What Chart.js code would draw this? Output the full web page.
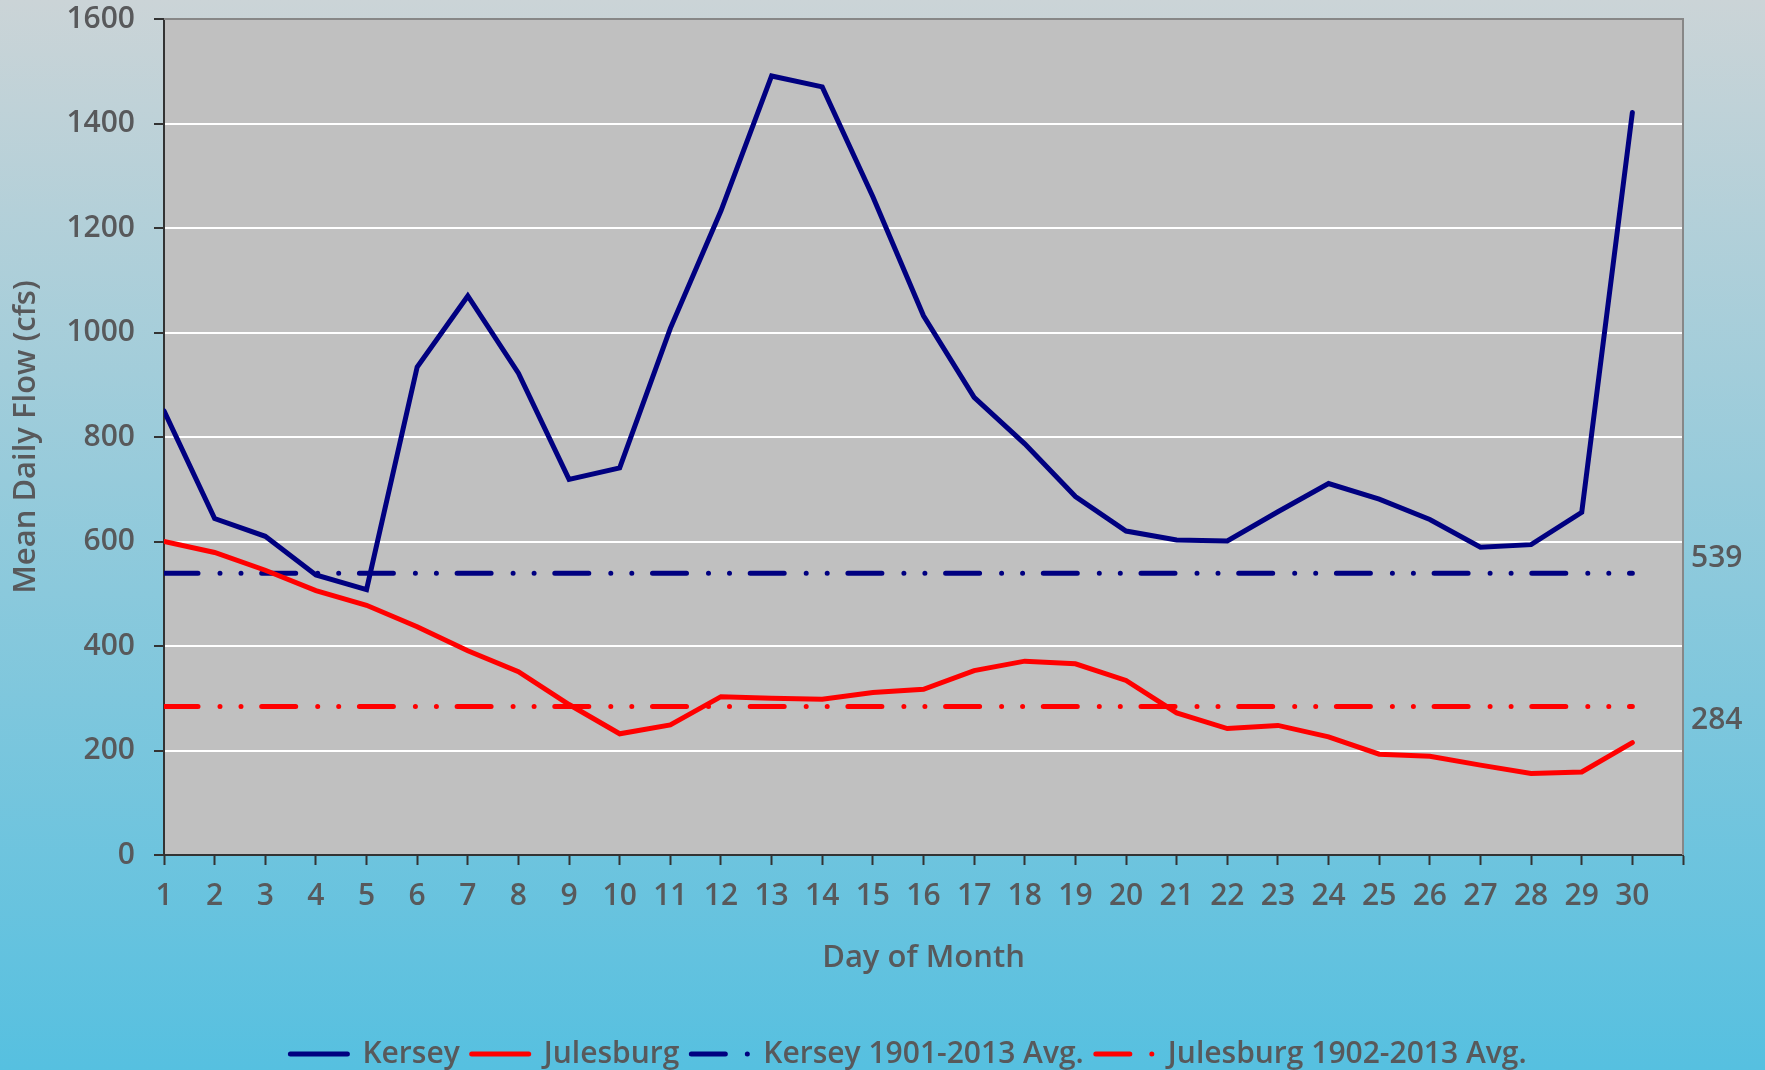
<!DOCTYPE html>
<html>
<head>
<meta charset="utf-8">
<script src="https://cdn.jsdelivr.net/npm/chart.js@4.4.1/dist/chart.umd.min.js"></script>
<style>
  html, body { margin: 0; padding: 0; background: #56c0e0; }
  #wrap { width: 1765px; height: 1070px; }
  canvas { display: block; }
</style>
</head>
<body>
<div id="wrap"><canvas id="c" width="1765" height="1070"></canvas></div>
<script>
// ---------------- data ----------------
const days = [1,2,3,4,5,6,7,8,9,10,11,12,13,14,15,16,17,18,19,20,21,22,23,24,25,26,27,28,29,30];
const kersey = [850, 644, 610, 536, 508, 934, 1070, 922, 719, 741, 1008, 1233, 1491, 1470, 1260, 1032, 876, 787, 686, 620, 603, 601, 657, 711, 681, 642, 589, 594, 656, 1421];
const julesburg = [600, 579, 545, 506, 478, 437, 391, 351, 288, 232, 249, 303, 300, 298, 311, 317, 353, 371, 366, 334, 272, 242, 248, 226, 193, 189, 172, 156, 159, 215];
const kerseyAvg = 539;
const julesburgAvg = 284;
const seriesNames = ['Kersey', 'Julesburg', 'Kersey 1901-2013 Avg.', 'Julesburg 1902-2013 Avg.'];
const yTicks = [0, 200, 400, 600, 800, 1000, 1200, 1400, 1600];
const xTitle = 'Day of Month';
const yTitle = 'Mean Daily Flow (cfs)';

// ---------------- styles ----------------
const FONT = "'Open Sans', 'DejaVu Sans', sans-serif";
const WEIGHT = '600';
const TEXT = '#58595b';
const NAVY = '#000080';
const RED = '#ff0000';
const DASH = [34, 22, 0, 21, 0, 20.7];

const pts = (vals) => days.map((d, i) => ({ x: d, y: vals[i] }));
const flat = (v) => days.map(d => ({ x: d, y: v }));

const bgPlugin = {
  id: 'bg',
  afterLayout(chart) {
    // nudge the legend row to sit slightly left of the plot centre, as in the original
    chart.legend.left -= 15;
    chart.legend.right -= 15;
  },
  beforeDraw(chart) {
    const { ctx, width, height, chartArea: a } = chart;
    ctx.save();
    const g = ctx.createLinearGradient(0, 0, 0, height);
    g.addColorStop(0, '#cbd4d7');
    g.addColorStop(1, '#56c0e0');
    ctx.fillStyle = g;
    ctx.fillRect(0, 0, width, height);
    ctx.fillStyle = '#c0c0c0';
    ctx.fillRect(a.left, a.top, a.right - a.left, a.bottom - a.top);
    ctx.restore();
  },
  beforeDatasetsDraw(chart) {
    const { ctx, chartArea: a } = chart;
    ctx.save();
    ctx.strokeStyle = '#878787';
    ctx.lineWidth = 2;
    ctx.beginPath();
    ctx.moveTo(a.left, a.top);
    ctx.lineTo(a.right, a.top);
    ctx.lineTo(a.right, a.bottom);
    ctx.stroke();
    ctx.restore();
  },
  afterDraw(chart) {
    const { ctx, chartArea: a, scales: { y } } = chart;
    ctx.save();
    ctx.fillStyle = TEXT;
    ctx.font = WEIGHT + ' 30px ' + FONT;
    ctx.textAlign = 'left';
    ctx.textBaseline = 'middle';
    ctx.fillText(String(kerseyAvg), a.right + 8, y.getPixelForValue(kerseyAvg) - 15);
    ctx.fillText(String(julesburgAvg), a.right + 8, y.getPixelForValue(julesburgAvg) + 14);
    ctx.restore();
  }
};

new Chart(document.getElementById('c'), {
  type: 'line',
  data: {
    datasets: [
      { label: seriesNames[0], data: pts(kersey), borderColor: NAVY, backgroundColor: NAVY, borderWidth: 5, pointRadius: 0, borderCapStyle: 'round', tension: 0 },
      { label: seriesNames[1], data: pts(julesburg), borderColor: RED, backgroundColor: RED, borderWidth: 5, pointRadius: 0, borderCapStyle: 'round', tension: 0 },
      { label: seriesNames[2], data: flat(kerseyAvg), borderColor: NAVY, backgroundColor: NAVY, borderWidth: 5, pointRadius: 0, borderDash: DASH, borderCapStyle: 'round' },
      { label: seriesNames[3], data: flat(julesburgAvg), borderColor: RED, backgroundColor: RED, borderWidth: 5, pointRadius: 0, borderDash: DASH, borderCapStyle: 'round' }
    ]
  },
  options: {
    responsive: false,
    animation: false,
    devicePixelRatio: 1,
    layout: { padding: { left: 0, right: 82, top: 19, bottom: -9 } },
    plugins: {
      tooltip: { enabled: false },
      legend: {
        position: 'bottom',
        fullSize: false,
        labels: {
          color: TEXT,
          font: { family: FONT, size: 30, weight: WEIGHT },
          usePointStyle: true,
          pointStyleWidth: 57,
          padding: 12,
          generateLabels(chart) {
            return chart.data.datasets.map((ds, i) => ({
              text: ds.label,
              fillStyle: ds.borderColor,
              strokeStyle: ds.borderColor,
              lineWidth: ds.borderWidth,
              lineDash: ds.borderDash || [],
              lineCap: 'round',
              pointStyle: 'line',
              rotation: 180,
              fontColor: TEXT,
              hidden: false,
              datasetIndex: i
            }));
          }
        }
      }
    },
    scales: {
      x: {
        type: 'linear',
        min: 1,
        max: 31,
        afterFit(s) { s.height = 172; },
        ticks: {
          stepSize: 1,
          autoSkip: false,
          maxRotation: 0,
          padding: 13,
          color: TEXT,
          font: { family: FONT, size: 30, weight: WEIGHT },
          callback: (v) => (days.includes(v) ? String(v) : '')
        },
        grid: { drawOnChartArea: false, drawTicks: true, tickLength: 10, tickColor: '#333333', tickWidth: 2 },
        border: { color: '#333333', width: 2 },
        title: { display: true, text: xTitle, color: TEXT, font: { family: FONT, size: 31, weight: WEIGHT }, padding: { top: 0, bottom: 50 } }
      },
      y: {
        min: 0,
        max: 1600,
        afterFit(s) { s.width = 164; s.paddingTop = 0; s.paddingBottom = 0; },
        afterBuildTicks(s) { s.ticks = yTicks.map(v => ({ value: v })); },
        ticks: { padding: 19, color: TEXT, font: { family: FONT, size: 30, weight: WEIGHT }, callback: (v) => String(v) },
        grid: { color: '#ffffff', lineWidth: 2, drawTicks: true, tickLength: 10, tickColor: '#333333', tickWidth: 2 },
        border: { color: '#333333', width: 2 },
        title: { display: true, text: yTitle, color: TEXT, font: { family: FONT, size: 31, weight: WEIGHT }, padding: { top: 8, bottom: 0 } }
      }
    }
  },
  plugins: [bgPlugin]
});
</script>
</body>
</html>
